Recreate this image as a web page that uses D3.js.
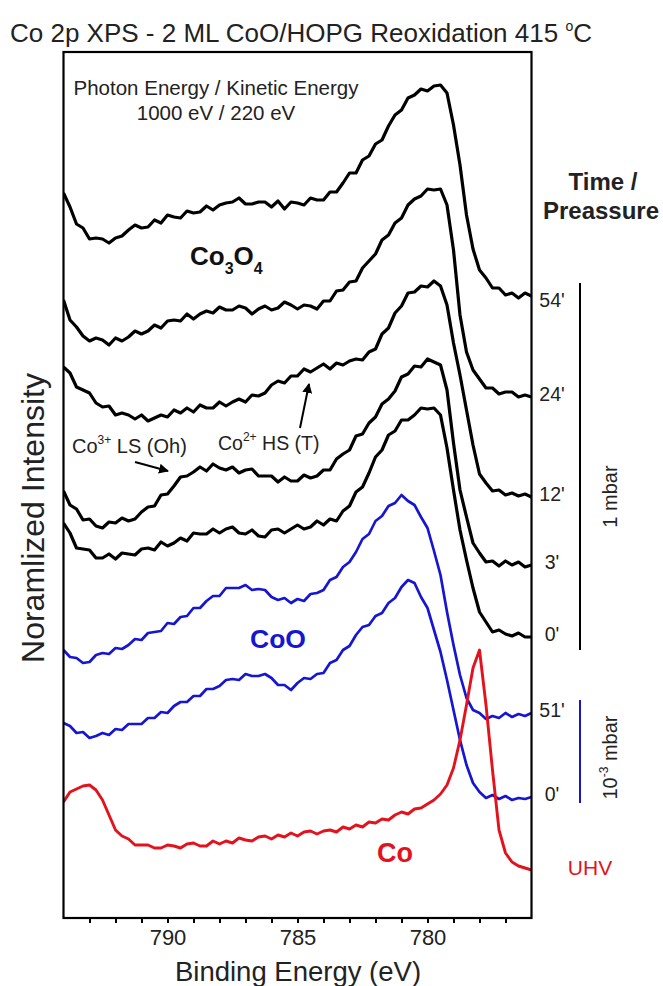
<!DOCTYPE html>
<html><head><meta charset="utf-8">
<script src="https://cdn.jsdelivr.net/npm/d3@7"></script>
<style>body{margin:0;background:#fff;} svg{display:block;font-family:"Liberation Sans",Arial,sans-serif;}</style>
</head><body><svg id="c" width="663" height="986"></svg>
<script>
// Binding energy grid (eV)
const energies = [794,793.75,793.5,793.25,793,792.75,792.5,792.25,792,791.75,791.5,791.25,791,790.75,790.5,790.25,790,789.75,789.5,789.25,789,788.75,788.5,788.25,788,787.75,787.5,787.25,787,786.75,786.5,786.25,786,785.75,785.5,785.25,785,784.75,784.5,784.25,784,783.75,783.5,783.25,783,782.75,782.5,782.25,782,781.75,781.5,781.25,781,780.75,780.5,780.25,780,779.75,779.5,779.25,779,778.75,778.5,778.25,778,777.75,777.5,777.25,777,776.75,776.5,776.25,776];

// Stacked normalized intensities (arb. units, offset for display)
const s1mbar54 = [7.25,7.11,6.94,6.90,6.79,6.80,6.79,6.75,6.80,6.82,6.88,6.93,6.90,6.91,6.98,6.95,7.03,7.01,7.00,7.07,7.05,7.06,7.12,7.08,7.13,7.15,7.16,7.20,7.14,7.14,7.16,7.16,7.11,7.17,7.09,7.16,7.15,7.13,7.20,7.18,7.18,7.26,7.26,7.35,7.45,7.45,7.58,7.62,7.74,7.78,7.92,8.03,8.08,8.20,8.23,8.29,8.27,8.32,8.33,8.25,7.93,7.53,7.03,6.69,6.48,6.40,6.30,6.30,6.23,6.25,6.20,6.25,6.22];
const s1mbar24 = [6.18,5.98,5.91,5.82,5.77,5.80,5.78,5.73,5.80,5.77,5.81,5.87,5.84,5.87,5.93,5.90,5.97,5.98,5.97,6.04,5.99,6.04,6.07,6.05,6.11,6.08,6.08,6.12,6.10,6.04,6.09,6.12,6.08,6.10,6.16,6.13,6.09,6.13,6.12,6.09,6.17,6.17,6.27,6.28,6.36,6.37,6.50,6.57,6.64,6.78,6.83,6.95,7.00,7.13,7.19,7.22,7.29,7.28,7.29,7.13,6.68,6.03,5.66,5.48,5.39,5.30,5.30,5.24,5.26,5.26,5.21,5.23,5.21];
const s1mbar12 = [5.51,5.45,5.31,5.28,5.25,5.15,5.11,5.12,5.03,5.05,5.03,4.99,5.03,4.97,5.00,5.03,5.01,5.08,5.05,5.10,5.06,5.13,5.10,5.10,5.16,5.12,5.16,5.19,5.16,5.23,5.22,5.25,5.33,5.37,5.35,5.42,5.42,5.49,5.46,5.50,5.54,5.49,5.55,5.53,5.57,5.59,5.58,5.66,5.69,5.84,5.90,6.05,6.12,6.25,6.26,6.32,6.31,6.37,6.32,6.13,5.75,5.43,5.08,4.73,4.44,4.35,4.27,4.28,4.23,4.25,4.22,4.24,4.21];
const s1mbar3 = [4.27,4.13,4.09,3.98,3.99,3.92,3.90,3.96,3.95,4.00,3.97,3.99,4.06,4.11,4.12,4.23,4.24,4.32,4.41,4.42,4.46,4.51,4.47,4.54,4.50,4.48,4.51,4.45,4.48,4.49,4.42,4.42,4.42,4.36,4.41,4.37,4.37,4.43,4.40,4.42,4.48,4.48,4.59,4.64,4.68,4.82,4.84,4.95,5.01,5.14,5.19,5.27,5.41,5.44,5.52,5.51,5.59,5.56,5.53,5.28,4.75,4.28,4.01,3.75,3.65,3.56,3.57,3.52,3.57,3.53,3.56,3.51,3.53];
const s1mbar0 = [3.95,3.85,3.70,3.69,3.68,3.60,3.60,3.64,3.59,3.65,3.64,3.63,3.69,3.70,3.68,3.76,3.72,3.75,3.80,3.77,3.85,3.84,3.84,3.89,3.85,3.89,3.91,3.85,3.84,3.88,3.82,3.81,3.88,3.89,3.85,3.89,3.93,3.89,3.91,3.97,3.93,3.99,3.97,4.07,4.12,4.26,4.31,4.45,4.61,4.68,4.83,4.87,4.98,4.98,5.03,5.10,5.09,5.10,5.03,4.70,4.28,3.88,3.58,3.30,3.06,2.96,2.86,2.88,2.84,2.82,2.85,2.81,2.81];
const sLow51 = [2.68,2.61,2.60,2.55,2.56,2.63,2.65,2.64,2.70,2.69,2.73,2.79,2.78,2.85,2.86,2.87,2.95,2.94,3.01,3.02,3.10,3.10,3.17,3.22,3.22,3.30,3.30,3.30,3.33,3.28,3.29,3.28,3.21,3.18,3.20,3.15,3.19,3.17,3.24,3.25,3.28,3.38,3.41,3.51,3.56,3.66,3.79,3.84,3.97,4.02,4.12,4.15,4.23,4.17,4.13,4.01,3.90,3.67,3.43,3.06,2.73,2.43,2.20,2.08,2.05,1.99,2.02,2.00,2.05,2.01,2.04,2.02,2.05];
const sLow0 = [1.95,1.92,1.85,1.86,1.80,1.82,1.85,1.83,1.89,1.88,1.94,1.94,1.94,2.00,2.00,2.06,2.05,2.12,2.16,2.16,2.22,2.22,2.29,2.29,2.32,2.38,2.39,2.38,2.44,2.42,2.42,2.44,2.40,2.33,2.33,2.28,2.35,2.40,2.39,2.44,2.45,2.55,2.58,2.68,2.72,2.83,2.91,2.93,3.02,3.05,3.15,3.20,3.31,3.38,3.35,3.21,3.10,2.88,2.66,2.38,2.08,1.78,1.53,1.35,1.26,1.20,1.23,1.19,1.22,1.18,1.20,1.19,1.21];
const sUHV = [1.16,1.26,1.29,1.32,1.33,1.28,1.18,1.03,0.88,0.82,0.79,0.73,0.73,0.73,0.70,0.70,0.73,0.72,0.70,0.74,0.75,0.72,0.72,0.77,0.74,0.77,0.75,0.80,0.78,0.77,0.81,0.82,0.79,0.83,0.81,0.85,0.82,0.86,0.87,0.84,0.87,0.88,0.86,0.91,0.89,0.93,0.91,0.96,0.95,0.99,0.98,1.03,1.06,1.04,1.09,1.10,1.14,1.18,1.24,1.33,1.50,1.78,2.13,2.50,2.68,2.13,1.48,0.88,0.65,0.56,0.52,0.50,0.48];

const seriesLabels = ["54'", "24'", "12'", "3'", "0'", "51'", "0'", "UHV"];
const xTickLabels = [790, 785, 780];
const xMinorTicks = [793,792,791,790,789,788,787,786,785,784,783,782,781,780,779,778,777];

const allSeries = [s1mbar54, s1mbar24, s1mbar12, s1mbar3, s1mbar0, sLow51, sLow0, sUHV];
const BLACK = "#000", BLUE = "#1616d2", RED = "#e3121c";
const colors = [BLACK, BLACK, BLACK, BLACK, BLACK, BLUE, BLUE, RED];
const widths = [3.2, 3.2, 3.2, 3.2, 3.2, 2.7, 2.7, 2.9];

const svg = d3.select("#c");
const L = 63.5, R = 531.5, T = 52, B = 918;
const x = d3.scaleLinear().domain([794, 776]).range([L, R]);
const y = d3.scaleLinear().domain([0, 8.66]).range([B, T]);

svg.append("defs").append("marker").attr("id", "ah")
  .attr("viewBox", "0 0 10 10").attr("refX", 9).attr("refY", 5)
  .attr("markerWidth", 5).attr("markerHeight", 5).attr("orient", "auto")
  .append("path").attr("d", "M0,0 L10,5 L0,10 Z").attr("fill", "#000");

svg.append("clipPath").attr("id", "clip").append("rect")
  .attr("x", L).attr("y", T).attr("width", R - L).attr("height", B - T);

const line = d3.line().x((d, i) => x(energies[i])).y(d => y(d));
const g = svg.append("g").attr("clip-path", "url(#clip)");
allSeries.forEach((s, k) => {
  g.append("path").attr("d", line(s)).attr("fill", "none")
    .attr("stroke", colors[k]).attr("stroke-width", widths[k])
    .attr("stroke-linejoin", "round");
});

// frame
svg.append("rect").attr("x", L).attr("y", T).attr("width", R - L).attr("height", B - T)
  .attr("fill", "none").attr("stroke", "#000").attr("stroke-width", 2.2);

// x axis
const axMajor = d3.axisBottom(x).tickValues(xTickLabels).tickSize(5).tickPadding(6).tickFormat(d3.format("d"));
const gx = svg.append("g").attr("transform", `translate(0,${B})`).call(axMajor);
gx.select(".domain").remove();
gx.selectAll(".tick line").attr("stroke-width", 2);
gx.selectAll(".tick text").attr("font-size", 22).attr("fill", "#222").attr("font-family", "Liberation Sans, Arial, sans-serif");
const axMinor = d3.axisBottom(x).tickValues(xMinorTicks).tickSize(5).tickFormat("");
const gm = svg.append("g").attr("transform", `translate(0,${B})`).call(axMinor);
gm.select(".domain").remove();
gm.selectAll(".tick line").attr("stroke-width", 2);

// axis titles
svg.append("text").attr("x", 298).attr("y", 981).attr("text-anchor", "middle")
  .attr("font-size", 27.5).attr("fill", "#222").text("Binding Energy (eV)");
svg.append("text").attr("transform", "translate(44,518) rotate(-90)").attr("text-anchor", "middle")
  .attr("font-size", 32).attr("fill", "#222").text("Noramlized Intensity");

// title
const tt = svg.append("text").attr("x", 10).attr("y", 42).attr("font-size", 26).attr("fill", "#222");
tt.append("tspan").text("Co 2p XPS - 2 ML CoO/HOPG Reoxidation 415 ");
tt.append("tspan").attr("font-size", 14).attr("dy", -11).text("o");
tt.append("tspan").attr("dy", 11).text("C");

// photon energy note
svg.append("text").attr("x", 216).attr("y", 95).attr("text-anchor", "middle").attr("font-size", 20.5).attr("fill", "#222").text("Photon Energy / Kinetic Energy");
svg.append("text").attr("x", 216).attr("y", 120).attr("text-anchor", "middle").attr("font-size", 20.5).attr("fill", "#222").text("1000 eV / 220 eV");

// Time / Preassure
svg.append("text").attr("x", 603).attr("y", 190).attr("text-anchor", "middle").attr("font-size", 24).attr("font-weight", "bold").attr("fill", "#222").text("Time /");
svg.append("text").attr("x", 601).attr("y", 219).attr("text-anchor", "middle").attr("font-size", 24).attr("font-weight", "bold").attr("fill", "#222").text("Preassure");

// series labels at right
allSeries.forEach((s, k) => {
  const yy = y(s[s.length - 1]);
  svg.append("text").attr("x", k === 7 ? 590 : 552).attr("y", yy + (k === 0 ? 4 : -3))
    .attr("dominant-baseline", "central").attr("text-anchor", "middle")
    .attr("font-size", k === 7 ? 21 : 19.5).attr("fill", k === 7 ? RED : "#222").text(seriesLabels[k]);
});

// pressure bars
const yTop1 = y(s1mbar54[72]) - 13, yBot1 = y(s1mbar0[72]) + 13;
svg.append("line").attr("x1", 580).attr("x2", 580).attr("y1", yTop1).attr("y2", yBot1).attr("stroke", "#000").attr("stroke-width", 2);
const yTop2 = y(sLow51[72]) - 13, yBot2 = y(sLow0[72]) + 6;
svg.append("line").attr("x1", 580).attr("x2", 580).attr("y1", yTop2).attr("y2", yBot2).attr("stroke", BLUE).attr("stroke-width", 2);
svg.append("text").attr("transform", `translate(617,${(yTop1 + yBot1) / 2 + 30}) rotate(-90)`).attr("text-anchor", "middle").attr("font-size", 20).attr("fill", "#222").text("1 mbar");
const lt = svg.append("text").attr("transform", `translate(617,${(yTop2 + yBot2) / 2 + 6}) rotate(-90)`).attr("text-anchor", "middle").attr("font-size", 20).attr("fill", "#222");
lt.append("tspan").text("10");
lt.append("tspan").attr("font-size", 12).attr("dy", -9).text("-3");
lt.append("tspan").attr("dy", 9).text(" mbar");

// species labels
const co3o4 = svg.append("text").attr("x", 190).attr("y", 265).attr("font-size", 26).attr("font-weight", "bold").attr("fill", "#111");
co3o4.append("tspan").text("Co");
co3o4.append("tspan").attr("font-size", 16).attr("dy", 9).text("3");
co3o4.append("tspan").attr("dy", -9).text("O");
co3o4.append("tspan").attr("font-size", 16).attr("dy", 9).text("4");
svg.append("text").attr("x", 250).attr("y", 648).attr("font-size", 26.5).attr("font-weight", "bold").attr("fill", BLUE).text("CoO");
svg.append("text").attr("x", 377).attr("y", 862).attr("font-size", 27).attr("font-weight", "bold").attr("fill", RED).text("Co");

// annotations
const a1 = svg.append("text").attr("x", 72).attr("y", 453).attr("font-size", 20).attr("fill", "#222");
a1.append("tspan").text("Co");
a1.append("tspan").attr("font-size", 12).attr("dy", -9).text("3+");
a1.append("tspan").attr("dy", 9).text(" LS (Oh)");
const a2 = svg.append("text").attr("x", 218).attr("y", 450).attr("font-size", 19.5).attr("fill", "#222");
a2.append("tspan").text("Co");
a2.append("tspan").attr("font-size", 12).attr("dy", -9).text("2+");
a2.append("tspan").attr("dy", 9).text(" HS (T)");
svg.append("line").attr("x1", 135).attr("y1", 462).attr("x2", 168).attr("y2", 471).attr("stroke", "#000").attr("stroke-width", 2).attr("marker-end", "url(#ah)");
svg.append("line").attr("x1", 300).attr("y1", 428).attr("x2", 309).attr("y2", 384).attr("stroke", "#000").attr("stroke-width", 2).attr("marker-end", "url(#ah)");
</script></body></html>
